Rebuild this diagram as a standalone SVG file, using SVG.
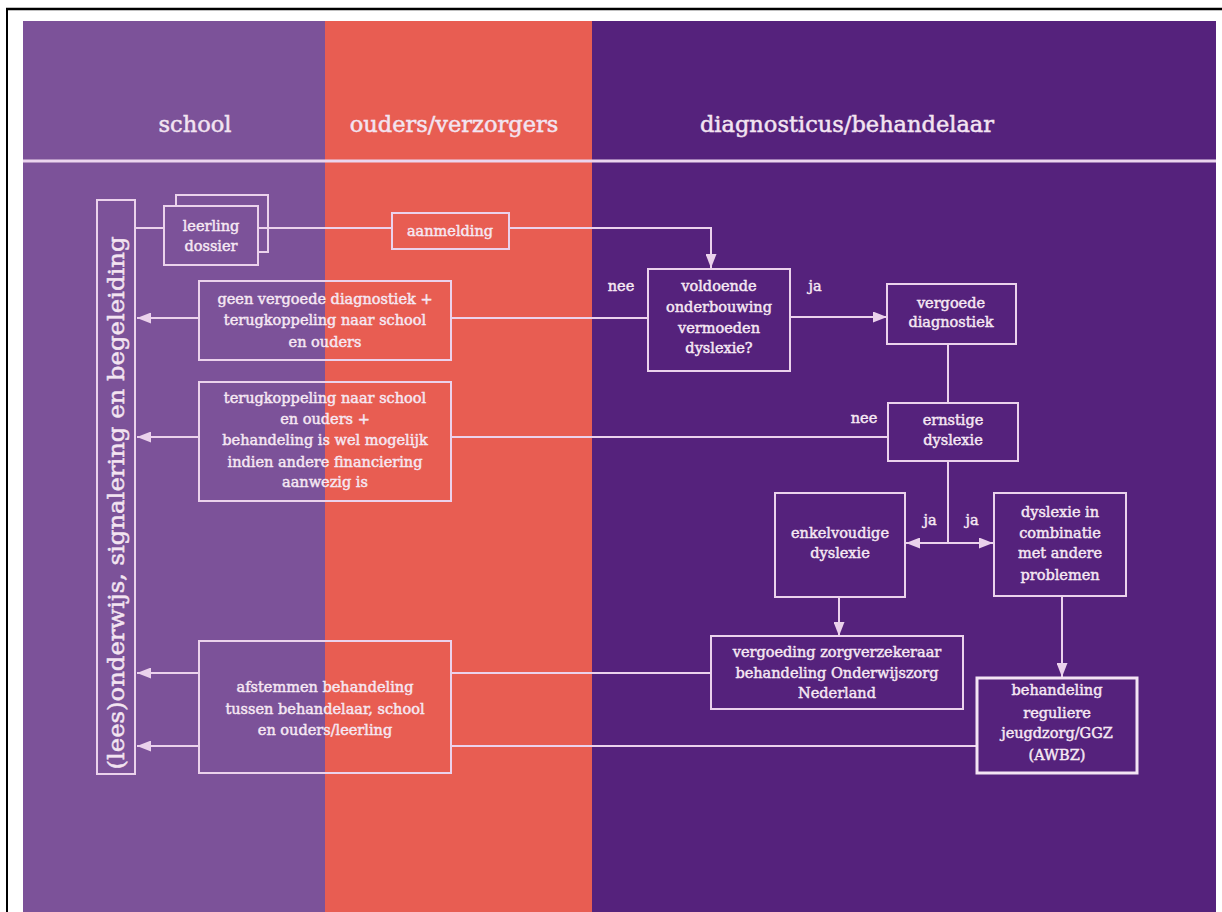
<svg xmlns="http://www.w3.org/2000/svg" width="1222" height="912" viewBox="0 0 1222 912">
<defs>
<style>
.hdr{font-family:"DejaVu Serif","Liberation Serif",serif;font-size:22.5px;fill:#F3E4F1;stroke:#F3E4F1;stroke-width:0.5;text-anchor:middle}
.t{font-family:"DejaVu Serif","Liberation Serif",serif;font-size:14.5px;fill:#F6E8F3;stroke:#F6E8F3;stroke-width:0.45;text-anchor:middle}
.lbl{font-family:"DejaVu Serif","Liberation Serif",serif;font-size:14.5px;fill:#F6E8F3;stroke:#F6E8F3;stroke-width:0.45;text-anchor:middle}
.box{fill:none;stroke:#EBD2EC;stroke-width:2}
.boxb{fill:none;stroke:#F4E4F4;stroke-width:3}
.ln{fill:none;stroke:#EBD2EC;stroke-width:2}
</style>
<marker id="ah" markerUnits="userSpaceOnUse" markerWidth="14" markerHeight="11" refX="14" refY="5.5" orient="auto">
<path d="M0,0 L14,5.5 L0,11 z" fill="#EBD2EC"/>
</marker>
</defs>
<rect x="0" y="0" width="1222" height="912" fill="#FFFFFF"/>
<line x1="6" y1="9" x2="1222" y2="9" stroke="#000" stroke-width="2.5"/>
<line x1="7" y1="8" x2="7" y2="912" stroke="#000" stroke-width="2"/>
<g id="lanes">
<rect x="23" y="21" width="302" height="891" fill="#7C5299"/>
<rect x="325" y="21" width="267" height="891" fill="#E85D52"/>
<rect x="592" y="21" width="624" height="891" fill="#55227C"/>
<line x1="23" y1="161" x2="1216" y2="161" stroke="#EBD5EE" stroke-width="3"/>
<text class="hdr" x="195" y="132">school</text>
<text class="hdr" x="454" y="132">ouders/verzorgers</text>
<text class="hdr" x="847" y="132">diagnosticus/behandelaar</text>
</g>
<g id="connectors">
<path class="ln" d="M135,228 H164"/>
<path class="ln" d="M258,228 H392"/>
<path class="ln" d="M509,228 H711 V268" marker-end="url(#ah)"/>
<path class="ln" d="M790,317 H887" marker-end="url(#ah)"/>
<path class="ln" d="M648,318 H451"/>
<path class="ln" d="M199,318 H137" marker-end="url(#ah)"/>
<path class="ln" d="M948,344 V403"/>
<path class="ln" d="M888,437 H451"/>
<path class="ln" d="M199,437 H137" marker-end="url(#ah)"/>
<path class="ln" d="M948,461 V543"/>
<path class="ln" d="M948,543 H906" marker-end="url(#ah)"/>
<path class="ln" d="M948,543 H993" marker-end="url(#ah)"/>
<path class="ln" d="M839,597 V636" marker-end="url(#ah)"/>
<path class="ln" d="M1062,596 V677" marker-end="url(#ah)"/>
<path class="ln" d="M711,673 H451"/>
<path class="ln" d="M199,673 H137" marker-end="url(#ah)"/>
<path class="ln" d="M977,746 H451"/>
<path class="ln" d="M199,746 H137" marker-end="url(#ah)"/>
<text class="lbl" x="621" y="291">nee</text>
<text class="lbl" x="815" y="291">ja</text>
<text class="lbl" x="864" y="423">nee</text>
<text class="lbl" x="930" y="525">ja</text>
<text class="lbl" x="972" y="525">ja</text>
</g>
<g id="begeleiding">
<rect class="box" x="97" y="200" width="38" height="574"/>
<text class="hdr" transform="translate(124,503) rotate(-90)" x="0" y="0" font-size="20" textLength="533" lengthAdjust="spacingAndGlyphs">(lees)onderwijs, signalering en begeleiding</text>
</g>
<g id="leerling-dossier">
<rect class="box" x="176" y="195" width="92" height="57"/>
<rect x="164" y="206" width="94" height="59" fill="#7C5299"/>
<rect class="box" x="164" y="206" width="94" height="59"/>
<text class="t" x="211" y="231">leerling</text>
<text class="t" x="211" y="251">dossier</text>
</g>
<g id="aanmelding">
<rect class="box" x="392" y="213" width="117" height="36"/>
<text class="t" x="450" y="236">aanmelding</text>
</g>
<g id="voldoende">
<rect class="box" x="648" y="269" width="142" height="102"/>
<text class="t" x="719" y="291">voldoende</text>
<text class="t" x="719" y="312">onderbouwing</text>
<text class="t" x="719" y="333">vermoeden</text>
<text class="t" x="719" y="353">dyslexie?</text>
</g>
<g id="vergoede-diagnostiek">
<rect class="box" x="887" y="284" width="129" height="60"/>
<text class="t" x="951" y="308">vergoede</text>
<text class="t" x="951" y="327">diagnostiek</text>
</g>
<g id="ernstige-dyslexie">
<rect class="box" x="888" y="403" width="130" height="58"/>
<text class="t" x="953" y="425">ernstige</text>
<text class="t" x="953" y="445">dyslexie</text>
</g>
<g id="geen-vergoede">
<rect class="box" x="199" y="281" width="252" height="79"/>
<text class="t" x="325" y="304">geen vergoede diagnostiek +</text>
<text class="t" x="325" y="325">terugkoppeling naar school</text>
<text class="t" x="325" y="347">en ouders</text>
</g>
<g id="terugkoppeling">
<rect class="box" x="199" y="382" width="252" height="119"/>
<text class="t" x="325" y="403">terugkoppeling naar school</text>
<text class="t" x="325" y="424">en ouders +</text>
<text class="t" x="325" y="445">behandeling is wel mogelijk</text>
<text class="t" x="325" y="467">indien andere financiering</text>
<text class="t" x="325" y="487">aanwezig is</text>
</g>
<g id="enkelvoudige">
<rect class="box" x="775" y="493" width="130" height="104"/>
<text class="t" x="840" y="538">enkelvoudige</text>
<text class="t" x="840" y="558">dyslexie</text>
</g>
<g id="dyslexie-combinatie">
<rect class="box" x="994" y="493" width="132" height="103"/>
<text class="t" x="1060" y="517">dyslexie in</text>
<text class="t" x="1060" y="538">combinatie</text>
<text class="t" x="1060" y="558">met andere</text>
<text class="t" x="1060" y="580">problemen</text>
</g>
<g id="vergoeding">
<rect class="box" x="711" y="636" width="252" height="73"/>
<text class="t" x="837" y="657">vergoeding zorgverzekeraar</text>
<text class="t" x="837" y="678">behandeling Onderwijszorg</text>
<text class="t" x="837" y="698">Nederland</text>
</g>
<g id="behandeling-regulier">
<rect class="boxb" x="977" y="678" width="160" height="95"/>
<text class="t" x="1057" y="695">behandeling</text>
<text class="t" x="1057" y="718">reguliere</text>
<text class="t" x="1057" y="738">jeugdzorg/GGZ</text>
<text class="t" x="1057" y="760">(AWBZ)</text>
</g>
<g id="afstemmen">
<rect class="box" x="199" y="641" width="252" height="132"/>
<text class="t" x="325" y="692">afstemmen behandeling</text>
<text class="t" x="325" y="714">tussen behandelaar, school</text>
<text class="t" x="325" y="735">en ouders/leerling</text>
</g>
</svg>
